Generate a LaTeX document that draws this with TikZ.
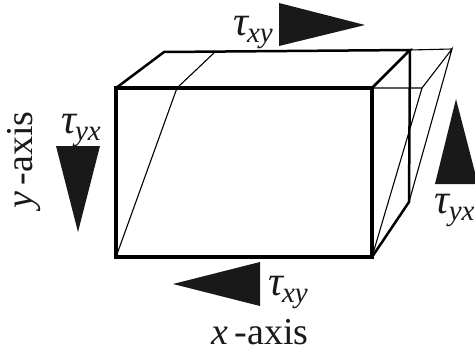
\documentclass[tikz,border=0pt]{standalone}
\usepackage{fontspec}
\setmainfont{Liberation Serif}
\newcommand{\taulabel}[2]{{\fontsize{42}{42}\selectfont\itshape τ}\kern-1pt\raisebox{-7pt}{\fontsize{29}{29}\selectfont\itshape #1#2}}
\tikzset{
  heavy/.style={line width=3.6pt,line join=miter},
  medium/.style={line width=2.5pt,line join=miter},
  fine/.style={line width=1.1pt,line join=miter},
  solidtri/.style={fill=black!90!white,draw=none},
  lab/.style={inner sep=0pt,outer sep=0pt,text=black!90!white},
  axislab/.style={inner sep=0pt,outer sep=0pt,font=\fontsize{38}{38}\selectfont,text=black!90!white}
}
\begin{document}
\begin{tikzpicture}[x=1pt,y=-1pt]
\useasboundingbox (0,0) rectangle (475,351);
\clip (0,0) rectangle (475,351);
% thin sheared outline
\draw[fine] (116,257) -- (177,88) -- (215,52);
\draw[fine] (372,88) -- (422,88) -- (372,257);
\draw[fine] (422,88) -- (452,49) -- (409,202);
\draw[fine] (410,50) -- (452,49);
% back edges
\draw[medium] (116,88) -- (164,52) -- (410,50) -- (372,88);
\draw[medium] (410,50) -- (409,202) -- (372,257);
% front face
\draw[heavy] (116,88) rectangle (372,257);
% stress arrows
\fill[solidtri] (279,3) -- (365,25) -- (279,46) -- cycle;
\fill[solidtri] (173,284) -- (260,262) -- (260,306) -- cycle;
\fill[solidtri] (56,146) -- (100,146) -- (78,232) -- cycle;
\fill[solidtri] (435,184) -- (456,99) -- (478,184) -- cycle;
% labels
\node[lab,anchor=base west] (tautop) at (233,35) {\taulabel{x}{y}};
\node[lab,anchor=base west] (taubottom) at (268,295) {\taulabel{x}{y}};
\node[lab,anchor=base west] (tauleft) at (61,133) {\taulabel{y}{x}};
\node[lab,anchor=base east] (tauright) at (474.5,213) {\taulabel{y}{x}};
\node[axislab,anchor=base] (xaxis) at (260,344) {\textit{x}\,-axis};
\node[axislab,anchor=base,rotate=90] (yaxis) at (32,160) {\textit{y}\,-axis};
\end{tikzpicture}
\end{document}
